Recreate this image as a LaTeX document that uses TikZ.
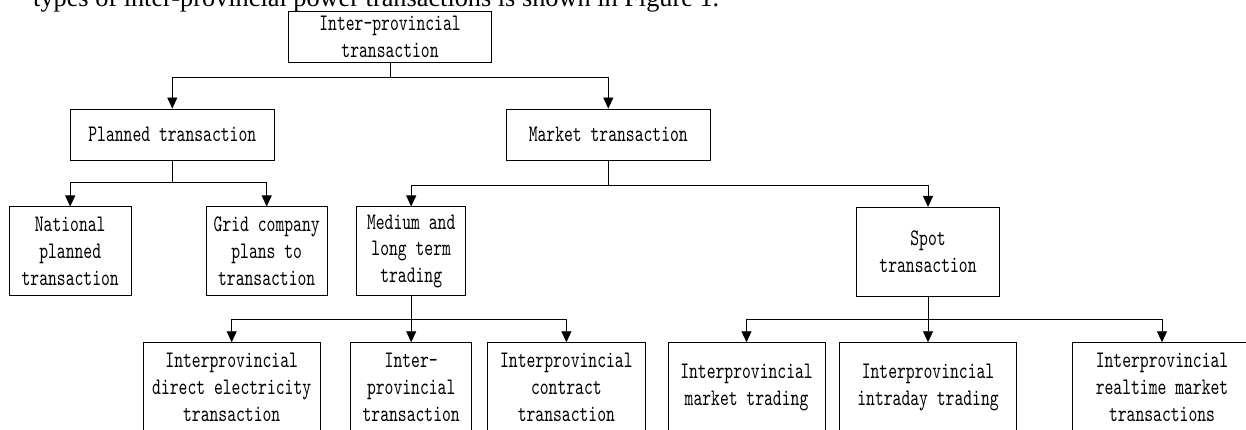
\documentclass[tikz,border=0pt]{standalone}
\usepackage{fontspec}
\setmainfont{Liberation Serif}
\newfontfamily\dfont{lmmono10-regular.otf}[FakeStretch=0.71]
\usetikzlibrary{arrows.meta}
\tikzset{
  box/.style={draw=black, line width=0.9pt, inner sep=0pt, align=center,
    font=\dfont\fontsize{23.7}{26.7}\selectfont},
  conn/.style={line width=0.9pt, draw=black},
  arr/.style={conn, -{Triangle[length=11pt,width=10pt]}}
}
\begin{document}
\begin{tikzpicture}[x=1pt,y=1pt]
\useasboundingbox (0,0) rectangle (1246,-430);
\clip (0,0) rectangle (1246,-430);
% caption fragment
\node[anchor=base west, inner sep=0pt, font=\fontsize{26.3}{26.3}\selectfont] (cap) at (33,-7)
  {types of inter-provincial power transactions is shown in Figure 1.};
% level 0
\node[box, minimum width=203.4pt, minimum height=50.3pt] (top) at (390,-36.85) {Inter-provincial\\transaction};
% level 1
\node[box, minimum width=203.3pt, minimum height=51pt] (plan) at (172.3,-134.5) {Planned transaction};
\node[box, minimum width=203.3pt, minimum height=51pt] (mark) at (608.3,-134.5) {Market transaction};
% level 2
\node[box, minimum width=121.7pt, minimum height=88.7pt] (nat) at (70.2,-251.3) {National\\planned\\transaction};
\node[box, minimum width=121.3pt, minimum height=88.7pt] (grid) at (266.7,-251.3) {Grid company\\plans to\\transaction};
\node[box, minimum width=108.6pt, minimum height=88.7pt] (med) at (411.2,-251.3) {Medium and\\long term\\trading};
\node[box, minimum width=142.4pt, minimum height=88.7pt] (spot) at (928,-251.7) {Spot\\transaction};
% level 3
\node[box, minimum width=177.1pt, minimum height=89pt] (dir) at (231.7,-387.2) {Interprovincial\\direct electricity\\transaction};
\node[box, minimum width=121.2pt, minimum height=89pt] (ipt) at (411.2,-387.2) {Inter-\\provincial\\transaction};
\node[box, minimum width=157.6pt, minimum height=89pt] (con) at (566.4,-387.2) {Interprovincial\\contract\\transaction};
\node[box, minimum width=157pt, minimum height=89pt] (mkt) at (746.5,-387.2) {Interprovincial\\market trading};
\node[box, minimum width=177.6pt, minimum height=89pt] (intra) at (928,-387.2) {Interprovincial\\intraday trading};
\node[box, minimum width=178.6pt, minimum height=89pt] (rt) at (1162,-387.2) {Interprovincial\\realtime market\\transactions};
% junctions
\coordinate (j0) at (390,-77.7);
\coordinate (j1) at (172.3,-182.7);
\coordinate (j2) at (608.3,-185.7);
\coordinate (j3) at (411.2,-319.2);
\coordinate (j4) at (928,-319);
% connectors
\draw[conn] (top.south) -- (j0);
\draw[arr] (j0) -| (plan.north);
\draw[arr] (j0) -| (mark.north);
\draw[conn] (plan.south) -- (j1);
\draw[arr] (j1) -| (nat.north);
\draw[arr] (j1) -| (grid.north);
\draw[conn] (mark.south) -- (j2);
\draw[arr] (j2) -| (med.north);
\draw[arr] (j2) -| (spot.north);
\draw[conn] (med.south) -- (j3);
\draw[arr] (j3) -| (dir.north);
\draw[arr] (j3) -- (ipt.north);
\draw[arr] (j3) -| (con.north);
\draw[conn] (spot.south) -- (j4);
\draw[arr] (j4) -| (mkt.north);
\draw[arr] (j4) -- (intra.north);
\draw[arr] (j4) -| (rt.north);
\end{tikzpicture}
\end{document}
